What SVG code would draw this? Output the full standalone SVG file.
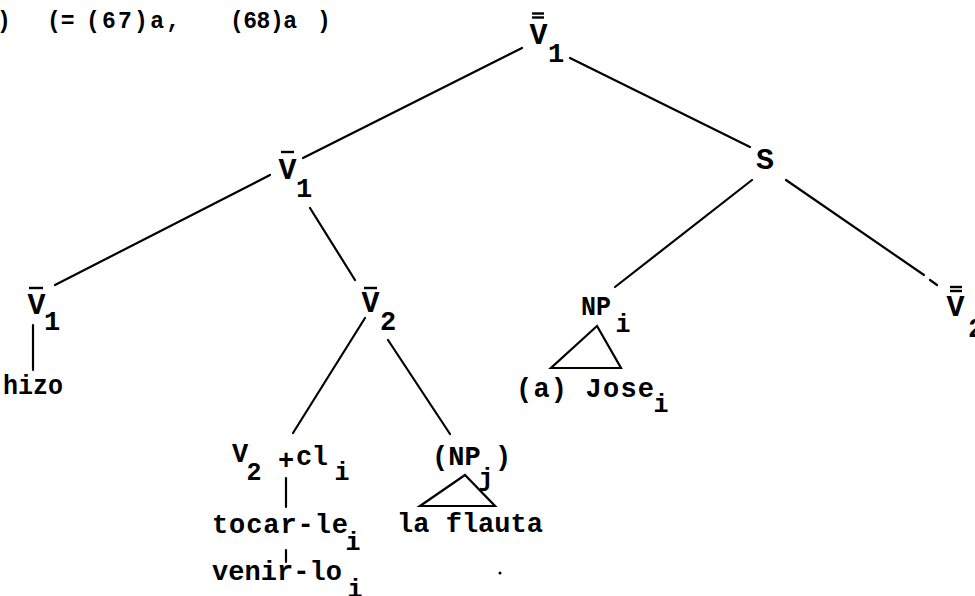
<svg xmlns="http://www.w3.org/2000/svg" width="975" height="596" viewBox="0 0 975 596">
<style>
  text { font-family: "Liberation Mono", "Courier New", monospace; fill: #000; font-weight: bold; }
  .title { font-size: 23px; }
  .t { font-size: 27px; }
  .big { font-size: 30px; }
  .sub { font-size: 25px; }
  .bsub { font-size: 27px; }
  line, polygon, path { stroke: #000; stroke-width: 2.2; fill: none; stroke-linecap: round; }
  .bar { stroke-width: 2.4; stroke-linecap: butt; }
</style>
<rect width="975" height="596" fill="#fff"/>
<g id="title">
  <text class="title" x="-3" y="28">)</text>
  <text class="title" x="47" y="28">(=</text>
  <text class="title" x="86" y="28" textLength="94" lengthAdjust="spacing">(67)a,</text>
  <text class="title" x="230" y="28" textLength="67" lengthAdjust="spacing">(68)a</text>
  <text class="title" x="317" y="28">)</text>
</g>
<g id="connectors">
  <line x1="522" y1="48" x2="303" y2="158"/>
  <line x1="570" y1="58" x2="750" y2="147"/>
  <line x1="270" y1="175" x2="55" y2="285"/>
  <line x1="310" y1="208" x2="355" y2="280"/>
  <line x1="33" y1="325" x2="33" y2="370"/>
  <line x1="365" y1="318" x2="293" y2="433"/>
  <line x1="388" y1="340" x2="450" y2="434"/>
  <line x1="752" y1="180" x2="615" y2="287"/>
  <line x1="786" y1="180" x2="924" y2="275"/>
  <line x1="930" y1="280" x2="937" y2="285"/>
  <line x1="286" y1="478" x2="286" y2="507"/>
  <line x1="286" y1="550" x2="286" y2="562"/>
</g>
<g id="root">
  <line class="bar" x1="532" y1="13.5" x2="544" y2="13.5"/>
  <line class="bar" x1="532" y1="17.5" x2="544" y2="17.5"/>
  <text class="big" x="538.5" y="44" text-anchor="middle">V</text>
  <text class="bsub" x="556" y="62" text-anchor="middle">1</text>
</g>
<g id="v1-mid">
  <line class="bar" x1="281" y1="152" x2="294" y2="152"/>
  <text class="big" x="287.5" y="179" text-anchor="middle">V</text>
  <text class="bsub" x="304" y="197" text-anchor="middle">1</text>
</g>
<g id="v1-left">
  <line class="bar" x1="29" y1="288" x2="43" y2="288"/>
  <text class="big" x="36.5" y="314" text-anchor="middle">V</text>
  <text class="bsub" x="52" y="330" text-anchor="middle">1</text>
</g>
<g id="hizo">
  <text class="t" x="3" y="394" textLength="60" lengthAdjust="spacingAndGlyphs">hizo</text>
</g>
<g id="v2-mid">
  <line class="bar" x1="364" y1="288" x2="377" y2="288"/>
  <text class="big" x="370.5" y="312" text-anchor="middle">V</text>
  <text class="bsub" x="388" y="330" text-anchor="middle">2</text>
</g>
<g id="s">
  <text class="big" x="765" y="169" text-anchor="middle">S</text>
</g>
<g id="np-i">
  <text class="t" x="581" y="315" textLength="30" lengthAdjust="spacingAndGlyphs">NP</text>
  <text class="sub" x="623" y="332" text-anchor="middle">i</text>
  <polygon points="597,326 551,368 621,368"/>
  <text class="t" x="516" y="397" textLength="138" lengthAdjust="spacing">(a) Jose</text>
  <text class="sub" x="661" y="412" text-anchor="middle">i</text>
</g>
<g id="v2-right">
  <line class="bar" x1="950" y1="287" x2="962" y2="287"/>
  <line class="bar" x1="950" y1="291" x2="962" y2="291"/>
  <text class="big" x="955.5" y="316" text-anchor="middle">V</text>
  <text class="bsub" x="976" y="337" text-anchor="middle">2</text>
</g>
<g id="v2-cl">
  <text class="t" x="240" y="462" text-anchor="middle">V</text>
  <text class="sub" x="254" y="480" text-anchor="middle">2</text>
  <text class="t" x="286" y="469" text-anchor="middle">+</text>
  <text class="t" x="296" y="465" textLength="32" lengthAdjust="spacing">cl</text>
  <text class="sub" x="342" y="480" text-anchor="middle">i</text>
</g>
<g id="tocar-le">
  <text class="t" x="212" y="533" textLength="136" lengthAdjust="spacing">tocar-le</text>
  <text class="sub" x="353" y="550" text-anchor="middle">i</text>
</g>
<g id="venir-lo">
  <text class="t" x="212" y="580" textLength="130" lengthAdjust="spacing">venir-lo</text>
  <text class="sub" x="355" y="597" text-anchor="middle">i</text>
</g>
<g id="np-j">
  <text class="t" x="432" y="465">(NP</text>
  <text class="sub" x="486" y="486" text-anchor="middle">j</text>
  <text class="t" x="495" y="465">)</text>
  <polygon points="465,475 420,506 495,506"/>
  <text class="t" x="397" y="532" textLength="146" lengthAdjust="spacing">la flauta</text>
</g>
<circle cx="500" cy="573" r="1.5" fill="#000"/>
</svg>
